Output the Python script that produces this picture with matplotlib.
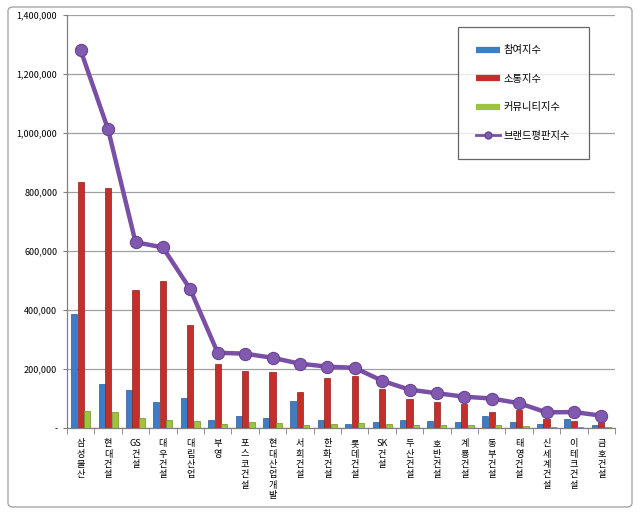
import matplotlib
matplotlib.use('Agg')
import matplotlib.pyplot as plt
import numpy as np
from matplotlib.patches import FancyBboxPatch
from matplotlib.lines import Line2D
from matplotlib.ticker import FuncFormatter, MultipleLocator, FixedLocator

plt.rcParams['font.family'] = ['Noto Sans CJK KR', 'DejaVu Sans']
plt.rcParams['axes.unicode_minus'] = False

# 데이터
companies = ['삼성물산', '현대건설', 'GS건설', '대우건설', '대림산업', '부영', '포스코건설',
             '현대산업개발', '서희건설', '한화건설', '롯데건설', 'SK건설', '두산건설', '호반건설',
             '계룡건설', '동부건설', '태영건설', '신세계건설', '이테크건설', '금호건설']
participation = [385000, 150000, 130000, 87000, 102000, 26000, 42000, 33000, 92000, 27000,
                 15000, 20000, 27000, 25000, 20000, 40000, 20000, 15000, 31000, 9000]
communication = [835000, 815000, 467000, 500000, 348000, 217000, 193000, 189000, 123000, 170000,
                 175000, 133000, 98000, 88000, 82000, 53000, 62000, 31000, 25000, 21000]
community = [59000, 53000, 33000, 28000, 24000, 14000, 21000, 18000, 9000, 14000,
             16000, 14000, 9000, 10000, 9000, 9000, 6000, 5000, 3000, 3000]
brand = [1280000, 1012000, 630000, 612000, 470000, 255000, 252000, 238000, 218000, 208000,
         204000, 160000, 130000, 118000, 106000, 100000, 84000, 53000, 54000, 42000]

series_labels = ['참여지수', '소통지수', '커뮤니티지수', '브랜드평판지수']
colors = ['#3F7CC4', '#C3302C', '#9CC43F', '#7A4FA6']
edge_colors = ['#2A5A94', '#8E1F1C', '#6E8E25']


def stack_label(name):
    # 엑셀식 세로 쓰기: 글자마다 줄바꿈 (영문은 한 줄로)
    parts = []
    buf = ''
    for ch in name:
        if ch.isascii():
            buf += ch
        else:
            if buf:
                parts.append(buf)
                buf = ''
            parts.append(ch)
    if buf:
        parts.append(buf)
    return '\n'.join(parts)


fig = plt.figure(figsize=(6.4, 5.13), dpi=100)
ax = fig.add_axes([67 / 640, 1 - 428 / 513, 548 / 640, 413 / 513])

# 바깥 테두리
frame = FancyBboxPatch((8 / 640, 6 / 513), 624 / 640, 500 / 513,
                       boxstyle='round,pad=0,rounding_size=0.008',
                       transform=fig.transFigure, facecolor='none',
                       edgecolor='#a6a6a6', linewidth=1.0, zorder=-1)
fig.patches.append(frame)

x = np.arange(len(companies))
w = 0.22
for i, vals in enumerate([participation, communication, community]):
    ax.bar(x + (i - 1) * (w + 0.015), vals, width=w, color=colors[i],
           edgecolor=edge_colors[i], linewidth=0.5, zorder=3)

ax.plot(x, brand, color=colors[3], linewidth=3.2, marker='o', markersize=8.8,
        markerfacecolor='#8159B0', markeredgecolor='#6A4491', markeredgewidth=0.8,
        zorder=4)

ax.set_xlim(-0.5, len(companies) - 0.5)
ax.set_ylim(0, 1400000)
ax.yaxis.set_major_locator(MultipleLocator(200000))
ax.yaxis.set_major_formatter(FuncFormatter(lambda v, p: '-' if v == 0 else f'{int(v):,}'))
ax.tick_params(axis='y', labelsize=6.5, length=3, color='#808080', pad=4)
ax.grid(axis='y', color='#a0a0a0', linewidth=0.9, zorder=0)

ax.set_xticks(x)
ax.set_xticklabels([stack_label(c) for c in companies], fontsize=6.6, linespacing=1.2,
                   va='top')
ax.tick_params(axis='x', length=0, pad=8)
ax.xaxis.set_minor_locator(FixedLocator(np.arange(-0.5, len(companies), 1.0)))
ax.tick_params(axis='x', which='minor', length=4, color='#808080')

for s in ['top', 'right']:
    ax.spines[s].set_visible(False)
for s in ['left', 'bottom']:
    ax.spines[s].set_color('#808080')
    ax.spines[s].set_linewidth(0.9)

handles = [Line2D([], [], color=colors[0], linewidth=4.5, solid_capstyle='butt'),
           Line2D([], [], color=colors[1], linewidth=4.5, solid_capstyle='butt'),
           Line2D([], [], color=colors[2], linewidth=4.5, solid_capstyle='butt'),
           Line2D([], [], color=colors[3], linewidth=2, marker='o', markersize=5,
                  markerfacecolor='#8159B0', markeredgecolor='#6A4491')]
leg = ax.legend(handles, series_labels, loc='upper left', bbox_to_anchor=(0.713, 0.971),
                fontsize=7.4, labelspacing=1.8, handlelength=2.3, handletextpad=0.4,
                borderpad=1.8, fancybox=False, frameon=True, borderaxespad=0)
leg.get_frame().set_edgecolor('#404040')
leg.get_frame().set_linewidth(0.9)

fig.savefig('out.png', dpi=100)
